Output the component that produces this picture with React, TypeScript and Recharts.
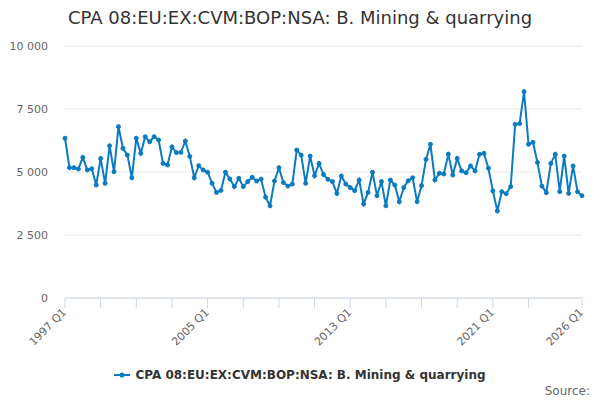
import React from 'react';
import { LineChart, Line, XAxis, YAxis, CartesianGrid } from 'recharts';

document.body.style.margin = '0';

const SERIES_NAME = 'CPA 08:EU:EX:CVM:BOP:NSA: B. Mining & quarrying';
const LINE_COLOR = '#0b7bc1';
const FONT = '"DejaVu Sans", sans-serif';

// quarterly values, 1997 Q1 .. 2026 Q1
const values = [
  6340, 5170, 5170, 5120, 5580, 5080, 5130, 4480, 5540, 4550,
  6040, 5010, 6800, 5940, 5670, 4770, 6340, 5740, 6400, 6200,
  6400, 6270, 5340, 5280, 6000, 5770, 5780, 6230, 5620, 4770,
  5250, 5080, 4990, 4550, 4190, 4270, 4990, 4720, 4420, 4750,
  4420, 4620, 4790, 4640, 4720, 4000, 3660, 4640, 5170, 4580,
  4440, 4520, 5870, 5670, 4550, 5630, 4850, 5340, 4900, 4710,
  4620, 4150, 4840, 4520, 4380, 4260, 4680, 3730, 4190, 4990,
  4060, 4620, 3660, 4680, 4480, 3820, 4380, 4650, 4770, 3820,
  4460, 5500, 6100, 4680, 4950, 4920, 5710, 4880, 5540, 5040,
  4970, 5240, 5040, 5700, 5740, 5150, 4250, 3450, 4220, 4140,
  4420, 6890, 6920, 8190, 6100, 6180, 5380, 4440, 4180, 5340,
  5700, 4220, 5630, 4150, 5240, 4220, 4060,
];

const startYear = 1997;
const quarters = values.map((_, i) => `${startYear + Math.floor(i / 4)} Q${(i % 4) + 1}`);

const xTicks = [0, 8, 16, 24, 32, 40, 48, 56, 64, 72, 80, 88, 96, 104, 116];
const xTickLabels = ['1997 Q1', '2005 Q1', '2013 Q1', '2021 Q1', '2026 Q1'];
const yTicks = [0, 2500, 5000, 7500, 10000];

const data = values.map((v, i) => ({ idx: i, quarter: quarters[i], value: v }));

const fmtThousands = (v: number) => String(v).replace(/\B(?=(\d{3})+(?!\d))/g, ' ');

function XTick({ x, y, payload }: any) {
  const label = quarters[payload.value];
  if (!xTickLabels.includes(label)) return null;
  return (
    <g transform={`translate(${x + 2},${y + 3})`}>
      <text
        transform="rotate(-45)"
        textAnchor="end"
        fill="#666"
        fontSize={11}
        fontFamily={FONT}
      >
        {label}
      </text>
    </g>
  );
}

export default function App() {
  return (
    <div style={{ position: 'relative', width: 600, height: 400, fontFamily: FONT, background: '#fff' }}>
      <div
        style={{
          position: 'absolute',
          top: 7,
          left: 0,
          width: 600,
          textAlign: 'center',
          fontSize: 18,
          color: '#333',
        }}
      >
        {SERIES_NAME}
      </div>
      <LineChart
        width={600}
        height={400}
        data={data}
        margin={{ top: 46, right: 18, bottom: 42, left: 0 }}
      >
        <CartesianGrid vertical={false} stroke="#e6e6e6" />
        <XAxis
          dataKey="idx"
          type="number"
          domain={[0, values.length - 1]}
          ticks={xTicks}
          interval={0}
          height={60}
          tickSize={10}
          axisLine={{ stroke: '#ccd6eb' }}
          tickLine={{ stroke: '#ccd6eb' }}
          tick={<XTick />}
        />
        <YAxis
          domain={[0, 10000]}
          ticks={yTicks}
          width={65}
          axisLine={false}
          tickLine={false}
          tickSize={0}
          tickMargin={17}
          tickFormatter={fmtThousands}
          tick={{ fill: '#666', fontSize: 11, fontFamily: FONT }}
        />
        <Line
          type="linear"
          dataKey="value"
          stroke={LINE_COLOR}
          strokeWidth={2}
          dot={{ r: 2, fill: LINE_COLOR, stroke: LINE_COLOR, strokeWidth: 1 }}
          isAnimationActive={false}
        />
      </LineChart>
      <div
        style={{
          position: 'absolute',
          top: 368,
          left: 0,
          width: 600,
          display: 'flex',
          justifyContent: 'center',
          alignItems: 'center',
        }}
      >
        <svg width={16} height={12} style={{ marginRight: 5 }}>
          <line x1={0} y1={6} x2={16} y2={6} stroke={LINE_COLOR} strokeWidth={2} />
          <circle cx={8} cy={6} r={2.5} fill={LINE_COLOR} />
        </svg>
        <span style={{ fontSize: 12, fontWeight: 'bold', color: '#333' }}>{SERIES_NAME}</span>
      </div>
      <div
        style={{
          position: 'absolute',
          top: 384,
          right: 10,
          fontSize: 12,
          color: '#666',
        }}
      >
        Source:
      </div>
    </div>
  );
}
